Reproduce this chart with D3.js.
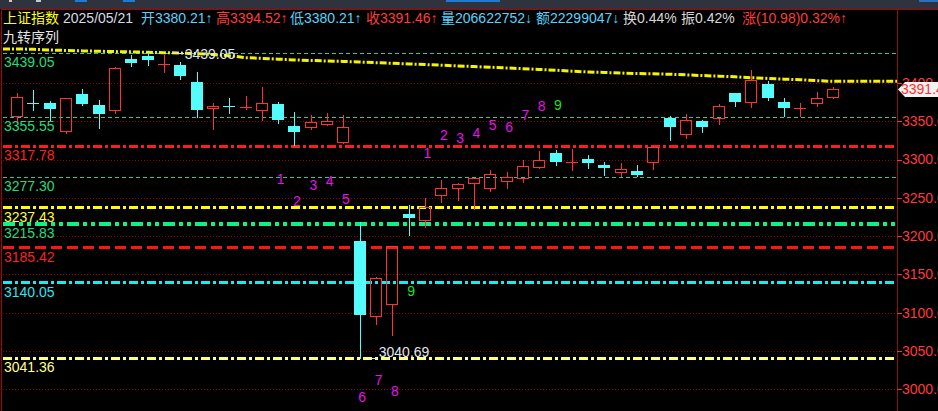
<!DOCTYPE html>
<html><head><meta charset="utf-8">
<script src="https://cdn.jsdelivr.net/npm/d3@7"></script>
<style>html,body{margin:0;padding:0;background:#000;overflow:hidden}svg{display:block}</style>
</head><body><svg id="c" width="938" height="411"></svg>
<script>
// ---------- data ----------
const dates = ["2025-03-06","2025-03-07","2025-03-10","2025-03-11","2025-03-12","2025-03-13","2025-03-14","2025-03-17","2025-03-18","2025-03-19",
"2025-03-20","2025-03-21","2025-03-24","2025-03-25","2025-03-26","2025-03-27","2025-03-28","2025-03-31","2025-04-01","2025-04-02",
"2025-04-03","2025-04-07","2025-04-08","2025-04-09","2025-04-10","2025-04-11","2025-04-14","2025-04-15","2025-04-16","2025-04-17",
"2025-04-18","2025-04-21","2025-04-22","2025-04-23","2025-04-24","2025-04-25","2025-04-28","2025-04-29","2025-04-30","2025-05-06",
"2025-05-07","2025-05-08","2025-05-09","2025-05-12","2025-05-13","2025-05-14","2025-05-15","2025-05-16","2025-05-19","2025-05-20","2025-05-21"];
const openV  = [3355.1,3373.3,3373.4,3336.3,3385.5,3370.8,3362.9,3431.2,3435.5,3424.4,
3423.4,3401.2,3365.5,3369.4,3366.6,3363.7,3372.5,3343.7,3341.5,3344.7,
3321.1,3193.6,3094.8,3110.5,3228.9,3220.1,3252.8,3261.9,3268.4,3261.9,
3270.6,3274.2,3289.3,3308.5,3296.5,3300.7,3292.8,3282.8,3285.0,3295.8,
3354.6,3332.4,3350.3,3353.3,3386.8,3374.2,3398.6,3375.1,3367.0,3372.9,3380.21];
const highV  = [3387.2,3390.7,3376.4,3380.5,3391.7,3377.3,3421.2,3436.4,3439.05,3436.5,
3426.9,3414.2,3373.4,3380.3,3382.9,3394.6,3375.1,3362.0,3357.7,3360.7,
3357.7,3218.4,3146.2,3186.8,3240.6,3249.3,3273.2,3268.9,3276.2,3286.3,
3283.7,3299.4,3311.1,3312.4,3313.7,3305.9,3296.7,3295.4,3292.8,3316.5,
3356.8,3359.4,3351.6,3372.5,3386.8,3416.9,3402.1,3380.3,3373.8,3388.1,3394.52];
const lowV   = [3349.3,3364.6,3350.7,3335.0,3370.8,3341.5,3361.0,3422.5,3423.4,3414.6,
3405.5,3355.9,3340.2,3361.1,3366.0,3352.0,3347.3,3318.9,3339.4,3344.7,
3321.1,3040.69,3085.3,3071.3,3201.4,3212.3,3244.9,3247.1,3235.0,3259.3,
3263.2,3271.0,3289.3,3292.8,3286.7,3289.3,3280.2,3278.5,3278.5,3287.6,
3325.5,3328.5,3336.3,3346.0,3370.2,3368.9,3378.1,3357.2,3357.2,3370.2,3380.21];
const closeV = [3381.1,3372.6,3366.2,3379.8,3372.0,3359.5,3419.6,3426.4,3429.8,3425.0,
3409.4,3365.0,3369.5,3368.9,3368.7,3373.8,3352.0,3336.3,3349.0,3350.3,
3342.0,3096.6,3145.6,3186.8,3224.0,3238.3,3262.6,3267.6,3276.0,3280.5,
3276.7,3291.3,3299.9,3297.1,3297.3,3295.3,3288.6,3287.4,3279.8,3316.1,
3342.8,3351.6,3342.3,3369.3,3375.5,3403.7,3380.8,3367.5,3367.6,3380.0,3391.46];
const maV = [3444.4,3443.8,3443.0,3442.3,3441.8,3441.3,3440.9,3440.5,3440.0,3439.5,
3439.0,3438.2,3437.0,3435.5,3433.0,3432.0,3431.0,3430.0,3429.3,3428.6,
3428.0,3427.2,3426.4,3425.6,3424.8,3424.0,3423.1,3422.2,3421.3,3420.4,
3419.5,3418.6,3417.6,3416.5,3415.3,3414.3,3413.6,3412.9,3412.2,3411.8,
3411.3,3410.5,3409.6,3408.8,3408.0,3406.8,3405.8,3404.9,3404.1,3403.0,3402.0];
// nine-turn sequence counts
const tdDown = [0,0,0,0,0,0,0,0,0,0,0,0,0,0,0,0,1,2,3,4,5,6,7,8,9,0,0,0,0,0,0,0,0,0,0,0,0,0,0,0,0,0,0,0,0,0,0,0,0,0,0];
const tdUp   = [0,0,0,0,0,0,0,0,0,0,0,0,0,0,0,0,0,0,0,0,0,0,0,0,0,1,2,3,4,5,6,7,8,9,0,0,0,0,0,0,0,0,0,0,0,0,0,0,0,0,0];
// support / resistance levels
const levelValues = [3439.05, 3355.55, 3317.78, 3277.30, 3237.43, 3215.83, 3185.42, 3140.05, 3041.36];
const axisTicks = [3000, 3050, 3100, 3150, 3200, 3250, 3300, 3350, 3400];
// quote header
const quoteName = "上证指数";
const quoteDate = "2025/05/21";
const quoteVolume = 206622752;
const quoteAmount = 22299047;
const quoteTurnover = 0.44;
const quoteAmplitude = 0.42;
const quoteChange = 10.98;
const quoteChangePct = 0.32;
const indicatorName = "九转序列";

// ---------- drawing ----------
const W = 938, H = 411;
const FONT = "'Liberation Sans', Arial, 'Noto Sans CJK SC', sans-serif";
const UP = "#ff3232", DOWN = "#54fcfc";
const svg = d3.select("#c");
svg.append("rect").attr("width", W).attr("height", H).attr("fill", "#000");

const plotR = 897;
const x = d3.scaleBand().domain(dates).range([9, 841]).padding(0);
const y = d3.scaleLinear().domain([3000, 3400]).range([389.3, 82.9]);
const cx = i => x(dates[i]) + x.bandwidth() / 2;
const px = v => Math.round(v) + 0.5;

// toolbar strip
svg.append("rect").attr("x", 0).attr("y", 0).attr("width", W).attr("height", 9).attr("fill", "#2f333d");
[[75, 12, "#1f7ad6"], [123, 12, "#1f7ad6"], [446, 54, "#1f7ad6"], [919, 19, "#2a6fc0"], [9, 3, "#c8c8c8"], [36, 5, "#c8c8c8"]]
  .forEach(([xx, w, c]) => svg.append("rect").attr("x", xx).attr("y", 0).attr("width", w).attr("height", 2).attr("fill", c));

// frame
const frame = svg.append("g").attr("shape-rendering", "crispEdges");
frame.append("line").attr("x1", 1).attr("x2", W).attr("y1", 9.5).attr("y2", 9.5).attr("stroke", "#b00000");
frame.append("line").attr("x1", 1.5).attr("x2", 1.5).attr("y1", 9).attr("y2", H).attr("stroke", "#b00000");
frame.append("line").attr("x1", plotR + 0.5).attr("x2", plotR + 0.5).attr("y1", 9).attr("y2", H).attr("stroke", "#8c1010");

// dotted grid
svg.append("g").selectAll("line").data(axisTicks).join("line")
  .attr("x1", 3).attr("x2", plotR).attr("y1", d => px(y(d))).attr("y2", d => px(y(d)))
  .attr("stroke", "#9a0000").attr("stroke-dasharray", "1,2").attr("shape-rendering", "crispEdges");

// level lines
const levelStyle = [
  {c: "#26c9a0", w: 1, d: "4,3", lc: "#22dc7c"},
  {c: "#26c9a0", w: 1, d: "4,3", lc: "#22dc7c"},
  {c: "#ff1c1c", w: 3, d: "9,3,3,3", lc: "#ff2020"},
  {c: "#26c9a0", w: 1, d: "4,3", lc: "#22dc7c"},
  {c: "#ffff00", w: 3, d: "9,3,3,3", lc: "#ffff30"},
  {c: "#10f088", w: 3.5, d: "12,4,4,4,4,4", lc: "#22dc7c"},
  {c: "#ff1414", w: 3, d: "11,5", lc: "#ff2020"},
  {c: "#10f0f0", w: 3, d: "9,3,3,3", lc: "#30e4f0"},
  {c: "#ffff80", w: 3, d: "9,3,3,3", lc: "#ffff90"}
];
const lv = svg.append("g");
levelValues.forEach((v, i) => {
  const s = levelStyle[i];
  const yy = s.w === 1 ? px(y(v)) : Math.round(y(v));
  lv.append("line").attr("x1", 3).attr("x2", s.w === 1 ? plotR : 895).attr("y1", yy).attr("y2", yy)
    .attr("stroke", s.c).attr("stroke-width", s.w).attr("stroke-dasharray", s.d).attr("shape-rendering", "crispEdges");
});

// moving average line (extended flat to plot edges)
const maPts = [[3, y(maV[0])]].concat(maV.map((v, i) => [cx(i), y(v)])).concat([[plotR, y(maV[maV.length - 1])]]);
svg.append("path").attr("d", d3.line()(maPts)).attr("fill", "none").attr("stroke", "#f4f400")
  .attr("stroke-width", 3).attr("stroke-dasharray", "7,2,2,2");

// candles
const cg = svg.append("g").attr("shape-rendering", "crispEdges");
dates.forEach((d, i) => {
  const o = openV[i], h = highV[i], l = lowV[i], c = closeV[i];
  const up = c >= o;
  const col = up ? UP : DOWN;
  const xc = Math.round(cx(i));
  const yTop = y(Math.max(o, c)), yBot = y(Math.min(o, c));
  const t = Math.round(yTop), b = Math.max(Math.round(yBot), t + 1);
  if (up) {
    cg.append("line").attr("x1", xc + 0.5).attr("x2", xc + 0.5).attr("y1", Math.round(y(h))).attr("y2", t).attr("stroke", col);
    cg.append("line").attr("x1", xc + 0.5).attr("x2", xc + 0.5).attr("y1", b).attr("y2", Math.round(y(l)) + 1).attr("stroke", col);
    cg.append("rect").attr("x", xc - 5.5).attr("y", t + 0.5).attr("width", 11).attr("height", Math.max(b - t - 1, 0.01))
      .attr("fill", "none").attr("stroke", col);
  } else {
    cg.append("line").attr("x1", xc + 0.5).attr("x2", xc + 0.5).attr("y1", Math.round(y(h))).attr("y2", Math.round(y(l)) + 1).attr("stroke", col);
    cg.append("rect").attr("x", xc - 6).attr("y", t).attr("width", 12).attr("height", Math.max(b - t, 1)).attr("fill", col);
  }
});

// nine-turn sequence numbers
const tg = svg.append("g").attr("font-family", FONT).attr("font-size", 14).attr("text-anchor", "middle");
tdDown.forEach((n, i) => {
  if (!n) return;
  const yc = Math.min(y(lowV[i]) + 56, 397);
  tg.append("text").attr("x", cx(i) + 2.5).attr("y", yc + 5).attr("fill", n === 9 ? "#22e022" : "#e414e8").text(n);
});
tdUp.forEach((n, i) => {
  if (!n) return;
  const yc = y(highV[i]) - 45;
  tg.append("text").attr("x", cx(i) + 2.5).attr("y", yc + 5).attr("fill", n === 9 ? "#22e022" : "#e414e8").text(n);
});

// high / low annotations
const iMax = d3.maxIndex(highV), iMin = d3.minIndex(lowV);
const ag = svg.append("g").attr("font-family", FONT).attr("font-size", 14).attr("fill", "#dfe6f2");
const yH = Math.round(y(highV[iMax])) + 0.5;
ag.append("line").attr("x1", cx(iMax) + 24).attr("x2", cx(iMax) + 36).attr("y1", yH).attr("y2", yH).attr("stroke", "#dfe6f2").attr("shape-rendering", "crispEdges");
ag.append("text").attr("x", cx(iMax) + 37).attr("y", yH + 5).text(highV[iMax].toFixed(2));
const yL = Math.round(y(lowV[iMin])) + 0.5;
ag.append("line").attr("x1", cx(iMin) + 10).attr("x2", cx(iMin) + 17).attr("y1", yL).attr("y2", yL).attr("stroke", "#dfe6f2").attr("shape-rendering", "crispEdges");
ag.append("text").attr("x", cx(iMin) + 19).attr("y", yL - 1.5).text(lowV[iMin].toFixed(2));

// level labels
const lg = svg.append("g").attr("font-family", FONT).attr("font-size", 14);
levelValues.forEach((v, i) => {
  lg.append("text").attr("x", 4).attr("y", y(v) + 14.5).attr("fill", levelStyle[i].lc).text(v.toFixed(2));
});

// right axis (labels run past the window edge, as in the terminal)
const axG = svg.append("g").attr("transform", `translate(${plotR},0)`)
  .call(d3.axisRight(y).tickValues(axisTicks).tickSize(5).tickPadding(0).tickFormat(d3.format(".2f")));
axG.select(".domain").remove();
axG.selectAll(".tick line").attr("stroke", "#ff3030").attr("shape-rendering", "crispEdges");
axG.selectAll(".tick text").attr("fill", "#ff3a3a").attr("font-size", 14).attr("font-family", FONT);

// current price tag
const last = closeV[closeV.length - 1];
const yc = y(last);
svg.append("path").attr("d", `M${plotR + 1},${yc} L${plotR + 8},${yc - 7.5} L${W},${yc - 7.5} L${W},${yc + 7.5} L${plotR + 8},${yc + 7.5} Z`)
  .attr("fill", "#f2f2f2");
svg.append("text").attr("x", plotR + 4).attr("y", yc + 5).attr("font-family", FONT).attr("font-size", 14)
  .attr("fill", "#ff3030").text(last.toFixed(2));

// header
const L = dates.length - 1;
const f2 = d3.format(".2f");
const header = [
  {t: quoteName, c: "#ffff00", x: 3},
  {t: quoteDate, c: "#d6dae4", x: 63},
  {t: `开${f2(openV[L])}↑`, c: "#58d4fc", x: 141},
  {t: `高${f2(highV[L])}↑`, c: "#ff3c3c", x: 216},
  {t: `低${f2(lowV[L])}↑`, c: "#58d4fc", x: 290},
  {t: `收${f2(closeV[L])}↑`, c: "#ff3c3c", x: 366},
  {t: `量${quoteVolume}↓`, c: "#58d4fc", x: 441},
  {t: `额${quoteAmount}↓`, c: "#58d4fc", x: 536},
  {t: `换${f2(quoteTurnover)}%`, c: "#d6d6d6", x: 623},
  {t: `振${f2(quoteAmplitude)}%`, c: "#d6d6d6", x: 681},
  {t: `涨(${f2(quoteChange)})${f2(quoteChangePct)}%↑`, c: "#ff3c3c", x: 742}
];
const hg = svg.append("g").attr("font-family", FONT).attr("font-size", 14);
header.forEach(h => hg.append("text").attr("x", h.x).attr("y", 23).attr("fill", h.c).text(h.t));
hg.append("text").attr("x", 3).attr("y", 42).attr("fill", "#e4e4e4").text(indicatorName);
</script>
</body></html>
